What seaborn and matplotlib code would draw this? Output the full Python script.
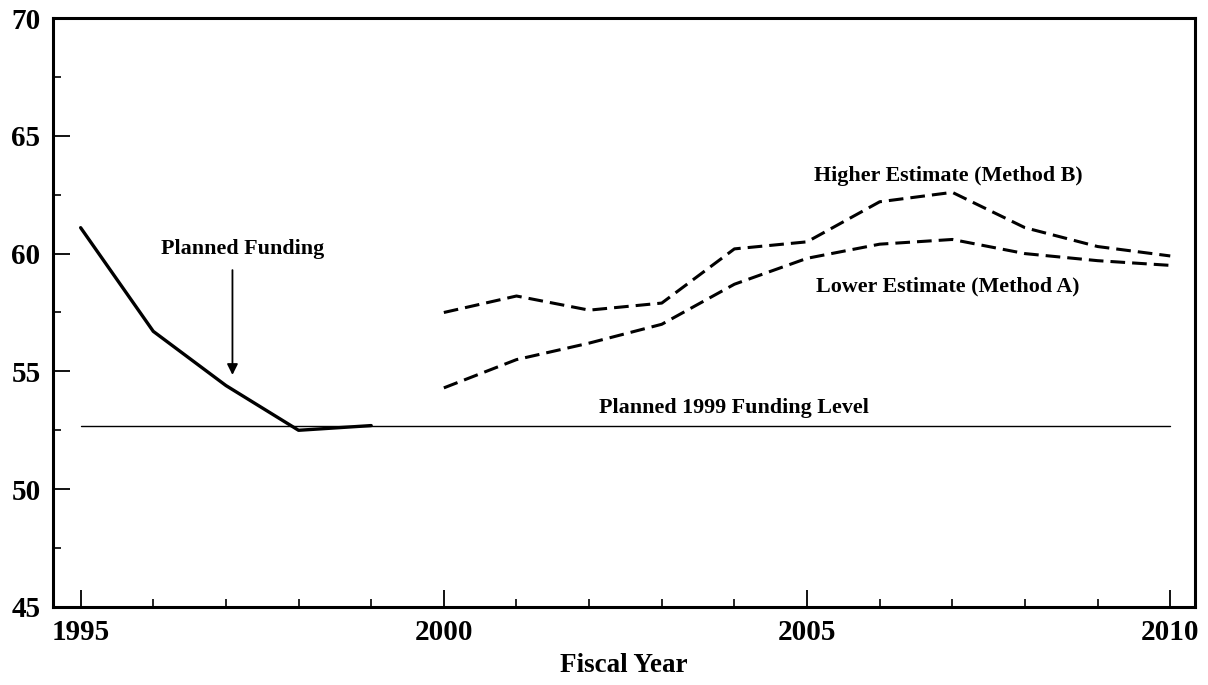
import matplotlib
matplotlib.use("Agg")
import matplotlib.pyplot as plt
from matplotlib.ticker import MultipleLocator
import seaborn as sns
import pandas as pd

# ---- data ----
planned_years = [1995, 1996, 1997, 1998, 1999]
planned_values = [61.1, 56.7, 54.4, 52.5, 52.7]

estimate_years = [2000, 2001, 2002, 2003, 2004, 2005, 2006, 2007, 2008, 2009, 2010]
higher_values = [57.5, 58.2, 57.6, 57.9, 60.2, 60.5, 62.2, 62.6, 61.1, 60.3, 59.9]
lower_values = [54.3, 55.5, 56.2, 57.0, 58.7, 59.8, 60.4, 60.6, 60.0, 59.7, 59.5]

funding_level_years = [1995, 2010]
funding_level = 52.7

x_ticks = [1995, 2000, 2005, 2010]
y_ticks = [45, 50, 55, 60, 65, 70]

sns.set_style("white")
plt.rcParams['font.family'] = ['Liberation Serif', 'DejaVu Serif']
plt.rcParams['font.weight'] = 'bold'
plt.rcParams['text.color'] = 'black'
plt.rcParams['axes.labelcolor'] = 'black'

fig = plt.figure(figsize=(12.08, 6.85), dpi=100)
ax = fig.add_axes([0.0439, 0.1139, 0.9453, 0.8598])

df_planned = pd.DataFrame({"year": planned_years, "value": planned_values})
df_high = pd.DataFrame({"year": estimate_years, "value": higher_values})
df_low = pd.DataFrame({"year": estimate_years, "value": lower_values})
df_level = pd.DataFrame({"year": funding_level_years,
                         "value": [funding_level] * len(funding_level_years)})

sns.lineplot(data=df_level, x="year", y="value", ax=ax, color="black", lw=1.0)
sns.lineplot(data=df_planned, x="year", y="value", ax=ax, color="black", lw=2.4)
sns.lineplot(data=df_high, x="year", y="value", ax=ax, color="black", lw=2.2)
sns.lineplot(data=df_low, x="year", y="value", ax=ax, color="black", lw=2.2)
for l in ax.lines[2:4]:
    l.set_dashes((4.8, 2.3))

ax.set_xlim(1994.62, 2010.34)
ax.set_ylim(45, 70)
ax.set_xticks(x_ticks)
ax.set_yticks(y_ticks)
ax.xaxis.set_minor_locator(MultipleLocator(1))
ax.yaxis.set_minor_locator(MultipleLocator(2.5))
ax.tick_params(which="major", direction="in", length=12, width=1.3,
               labelsize=21, pad=9, color="black", labelcolor="black")
ax.tick_params(which="minor", direction="in", length=6, width=1.2, color="black")
ax.tick_params(axis="y", which="both", left=True)
ax.tick_params(axis="x", which="both", bottom=True)
for s in ax.spines.values():
    s.set_visible(True)
    s.set_color("black")
    s.set_linewidth(2.2)

ax.set_xlabel("Fiscal Year", fontsize=19.5, fontweight="bold", labelpad=5,
              color="black")
ax.set_ylabel("")

tk = dict(fontsize=15.8, fontweight="bold", ha="center", va="center", color="black")
ax.text(1997.23, 60.2, "Planned Funding", **tk)
ax.text(2006.94, 63.3, "Higher Estimate (Method B)", **tk)
ax.text(2006.94, 58.6, "Lower Estimate (Method A)", **tk)
ax.text(2004.0, 53.45, "Planned 1999 Funding Level", **tk)

ax.annotate("", xy=(1997.09, 54.85), xytext=(1997.09, 59.3),
            arrowprops=dict(arrowstyle="-|>", color="black", lw=1.3,
                            mutation_scale=16, shrinkA=0, shrinkB=0))

fig.savefig("out.png", dpi=100)
